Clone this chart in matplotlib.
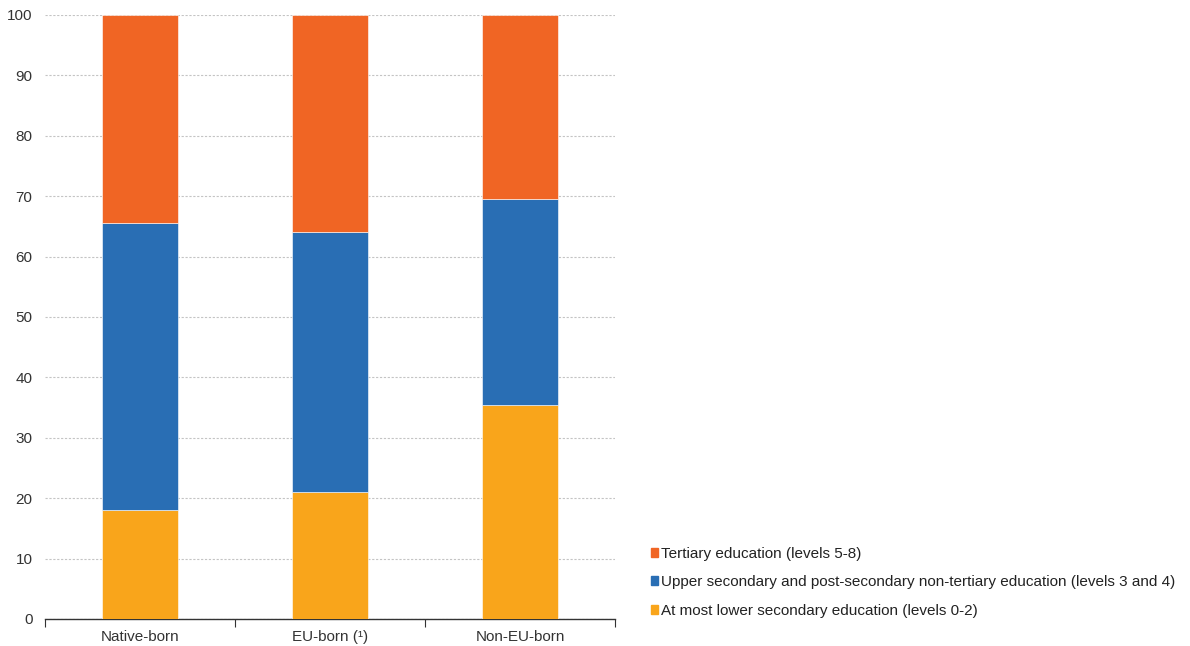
import numpy as np
import matplotlib.pyplot as plt
from matplotlib.patches import Patch

plt.rcParams['font.family'] = ['Liberation Sans', 'DejaVu Sans']

categories = ['Native-born', 'EU-born (¹)', 'Non-EU-born']
lower_secondary = [18.0, 21.0, 35.4]
upper_secondary = [47.5, 43.1, 34.1]
tertiary = [34.5, 35.9, 30.5]

series_labels = [
    'Tertiary education (levels 5-8)',
    'Upper secondary and post-secondary non-tertiary education (levels 3 and 4)',
    'At most lower secondary education (levels 0-2)',
]
colors = {'tertiary': '#F06524', 'upper': '#296EB4', 'lower': '#F9A51B'}


def main():
    fig = plt.figure(figsize=(11.9, 6.46), dpi=100)
    ax = fig.add_axes([45 / 1190, 1 - 619 / 646, 570 / 1190, 604 / 646])

    x = np.arange(len(categories))
    width = 0.395
    low = np.array(lower_secondary)
    mid = np.array(upper_secondary)
    top = np.array(tertiary)
    ax.bar(x, low, width, color=colors['lower'], edgecolor='white', linewidth=0.4, zorder=3)
    ax.bar(x, mid, width, bottom=low, color=colors['upper'], edgecolor='white', linewidth=0.4, zorder=3)
    ax.bar(x, top, width, bottom=low + mid, color=colors['tertiary'], edgecolor='white', linewidth=0.4, zorder=3)

    ax.set_xlim(-0.5, len(categories) - 0.5)
    ax.set_ylim(0, 100)
    ax.set_yticks(np.arange(0, 101, 10))
    ax.yaxis.grid(True, linestyle=(0, (2, 1.5)), color='#c4c4c4', linewidth=0.8, zorder=0)

    for side in ('top', 'right', 'left'):
        ax.spines[side].set_visible(False)
    ax.spines['bottom'].set_color('#333333')
    ax.spines['bottom'].set_linewidth(1.0)

    # major ticks sit between categories, labels on minor ticks at centres
    ax.set_xticks(np.arange(-0.5, len(categories), 1.0))
    ax.set_xticklabels([])
    ax.tick_params(axis='x', which='major', length=6, direction='out', color='#333333')
    ax.set_xticks(x, minor=True)
    ax.set_xticklabels(categories, minor=True, fontsize=11, color='#333333')
    ax.tick_params(axis='x', which='minor', length=0, pad=8)
    ax.tick_params(axis='y', length=0, labelsize=11, labelcolor='#333333', pad=9)

    handles = [
        Patch(color=colors['tertiary']),
        Patch(color=colors['upper']),
        Patch(color=colors['lower']),
    ]
    fig.legend(handles, series_labels, loc='upper left',
               bbox_to_anchor=(637 / 1190, 1 - 533 / 646),
               frameon=False, fontsize=11, handlelength=0.5, handleheight=0.5,
               handletextpad=0.15, labelspacing=0.95, labelcolor='#222222')

    fig.savefig('out.png', dpi=100)


if __name__ == '__main__':
    main()
